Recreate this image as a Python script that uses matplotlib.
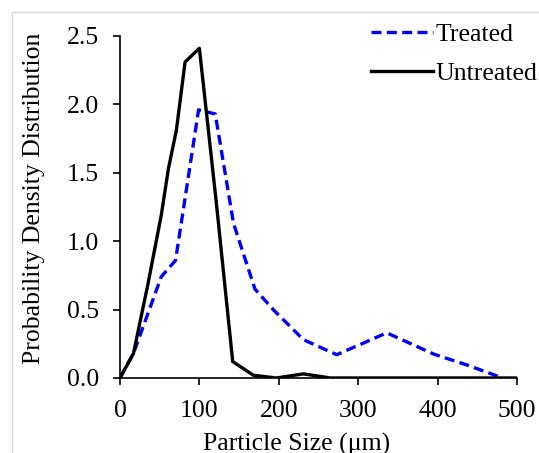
import numpy as np
import matplotlib
matplotlib.use("Agg")
import matplotlib.pyplot as plt
import matplotlib.patches as patches

plt.rcParams['font.family'] = ['Liberation Serif', 'DejaVu Serif']

# particle size (um) and probability density
size_treated = [0, 17, 52, 70, 99, 120, 143, 170, 193, 231, 273, 336, 395, 437, 482]
pdf_treated = [0.0, 0.18, 0.74, 0.86, 1.96, 1.93, 1.13, 0.65, 0.50, 0.28, 0.17, 0.33, 0.175, 0.095, 0.0]

size_untreated = [0, 17, 35, 52, 61, 71, 82, 100, 121, 142, 168, 197, 231, 265, 500]
pdf_untreated = [0.0, 0.18, 0.68, 1.19, 1.53, 1.81, 2.31, 2.41, 1.30, 0.12, 0.02, 0.0, 0.03, 0.0, 0.0]

fs = 18.5

fig = plt.figure(figsize=(5.39, 4.53), dpi=100)
ax = fig.add_axes([0.2226, 0.1656, 0.7365, 0.755])

ax.plot(size_treated, pdf_treated, color='#0000ff', lw=2.4, ls=(0, (3, 1.6)), label='Treated')
ax.plot(size_untreated, pdf_untreated, color='black', lw=2.4, label='Untreated')

ax.set_xlim(0, 500)
ax.set_ylim(0, 2.5)
ax.set_xticks(np.arange(0, 501, 100))
ax.set_yticks(np.arange(0, 2.51, 0.5))
ax.yaxis.set_major_formatter(plt.FormatStrFormatter('%.1f'))
ax.spines['top'].set_visible(False)
ax.spines['right'].set_visible(False)
for s in ['left', 'bottom']:
    ax.spines[s].set_linewidth(1.2)
ax.tick_params(axis='both', direction='out', length=5, width=1.2, labelsize=fs)
ax.tick_params(axis='x', pad=11)
ax.tick_params(axis='y', pad=10)

ax.set_xlabel('Particle Size (μm)', fontsize=fs)
ax.xaxis.set_label_coords(0.446, -0.16)
ax.set_ylabel('Probability Density Distribution', fontsize=fs)
ax.yaxis.set_label_coords(-0.19, 0.526)

leg = ax.legend(loc='upper left', bbox_to_anchor=(0.689, 0.95), bbox_transform=fig.transFigure,
                frameon=False, fontsize=fs, handlelength=2.4, handletextpad=0.1,
                labelspacing=0.65, borderaxespad=0, borderpad=0)

# light outer chart border
fig.patches.append(patches.Rectangle((12/539, -0.1), 1.2, 1 - 12/453 + 0.1, transform=fig.transFigure,
                                     fill=False, edgecolor='#d9d9d9', lw=1.0))

fig.savefig('out.png', dpi=100)
